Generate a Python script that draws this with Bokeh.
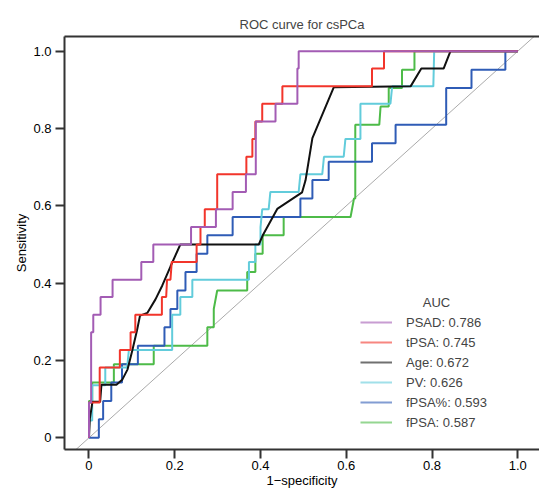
from bokeh.plotting import figure
from bokeh.models import Range1d, FixedTicker, LinearAxis, Legend, LegendItem, Label
from bokeh.embed import file_html
from bokeh.resources import INLINE

# ---------------- data ----------------
series_names = ["PSAD", "tPSA", "Age", "PV", "fPSA%", "fPSA"]
auc_values = [0.786, 0.745, 0.672, 0.626, 0.593, 0.587]
colors = ["#A35CB4", "#F2352B", "#111111", "#62CCDB", "#2F5CB6", "#4DBB48"]

fpr_psad = [0, 0, 0.005, 0.005, 0.010, 0.010, 0.027, 0.027, 0.055, 0.055, 0.122, 0.122,
            0.150, 0.150, 0.238, 0.238, 0.296, 0.296, 0.335, 0.335, 0.366, 0.366,
            0.389, 0.389, 0.435, 0.435, 0.486, 0.486, 0.489, 0.489, 1.0]
tpr_psad = [0, 0.091, 0.091, 0.273, 0.273, 0.318, 0.318, 0.364, 0.364, 0.409, 0.409, 0.455,
            0.455, 0.5, 0.5, 0.545, 0.545, 0.591, 0.591, 0.636, 0.636, 0.682,
            0.682, 0.818, 0.818, 0.864, 0.864, 0.955, 0.955, 1.0, 1.0]

fpr_tpsa = [0, 0, 0.025, 0.025, 0.072, 0.072, 0.097, 0.097, 0.108, 0.108, 0.170, 0.170,
            0.180, 0.182, 0.190, 0.193, 0.251, 0.251, 0.260, 0.260, 0.270, 0.270,
            0.299, 0.299, 0.367, 0.367, 0.381, 0.381, 0.388, 0.388, 0.404, 0.404,
            0.451, 0.451, 0.660, 0.660, 0.688, 0.688, 1.0]
tpr_tpsa = [0, 0.091, 0.091, 0.182, 0.182, 0.227, 0.227, 0.273, 0.273, 0.318, 0.318, 0.364,
            0.364, 0.409, 0.409, 0.455, 0.455, 0.5, 0.5, 0.545, 0.545, 0.591,
            0.591, 0.682, 0.682, 0.727, 0.727, 0.773, 0.773, 0.818, 0.818, 0.864,
            0.864, 0.909, 0.909, 0.955, 0.955, 1.0, 1.0]

fpr_age = [0, 0.002, 0.008, 0.026, 0.029, 0.064, 0.078, 0.090, 0.101, 0.112, 0.119, 0.136,
           0.155, 0.171, 0.190, 0.213, 0.396, 0.405, 0.439, 0.497, 0.505, 0.521, 0.571,
           0.750, 0.775, 0.827, 0.843, 1.0]
tpr_age = [0, 0.049, 0.093, 0.093, 0.137, 0.137, 0.151, 0.177, 0.226, 0.278, 0.316, 0.323,
           0.358, 0.394, 0.443, 0.5, 0.5, 0.523, 0.592, 0.635, 0.666, 0.775, 0.907,
           0.909, 0.955, 0.955, 1.0, 1.0]

fpr_pv = [0, 0, 0.0075, 0.0075, 0.038, 0.038, 0.089, 0.093, 0.194, 0.194, 0.213, 0.213,
          0.241, 0.241, 0.373, 0.373, 0.388, 0.388, 0.400, 0.400, 0.404, 0.419, 0.423,
          0.489, 0.493, 0.544, 0.548, 0.594, 0.598, 0.633, 0.633, 0.703, 0.707, 0.803,
          0.805, 1.0]
tpr_pv = [0, 0.045, 0.045, 0.136, 0.136, 0.182, 0.182, 0.227, 0.227, 0.318, 0.318, 0.364,
          0.364, 0.409, 0.409, 0.455, 0.455, 0.5, 0.5, 0.545, 0.591, 0.591, 0.636,
          0.636, 0.682, 0.682, 0.727, 0.727, 0.773, 0.773, 0.864, 0.864, 0.909, 0.909,
          1.0, 1.0]

fpr_fpsa_pct = [0, 0.023, 0.023, 0.033, 0.033, 0.052, 0.052, 0.077, 0.077, 0.114, 0.114,
                0.176, 0.176, 0.190, 0.190, 0.206, 0.206, 0.225, 0.225, 0.251, 0.251,
                0.276, 0.276, 0.335, 0.335, 0.493, 0.493, 0.521, 0.521, 0.559, 0.559,
                0.660, 0.660, 0.715, 0.715, 0.833, 0.833, 0.892, 0.892, 0.971, 0.971, 1.0]
tpr_fpsa_pct = [0, 0, 0.048, 0.048, 0.095, 0.095, 0.143, 0.143, 0.190, 0.190, 0.238,
                0.238, 0.286, 0.286, 0.333, 0.333, 0.381, 0.381, 0.429, 0.429, 0.476,
                0.476, 0.524, 0.524, 0.571, 0.571, 0.619, 0.619, 0.667, 0.667, 0.714,
                0.714, 0.762, 0.762, 0.810, 0.810, 0.905, 0.905, 0.952, 0.952, 1.0, 1.0]

fpr_fpsa = [0, 0, 0.0075, 0.0075, 0.058, 0.058, 0.151, 0.151, 0.276, 0.276, 0.291, 0.291,
            0.299, 0.369, 0.369, 0.388, 0.388, 0.405, 0.405, 0.454, 0.454, 0.610, 0.618,
            0.621, 0.621, 0.677, 0.680, 0.699, 0.699, 0.730, 0.730, 0.759, 0.759, 1.0]
tpr_fpsa = [0, 0.095, 0.095, 0.143, 0.143, 0.190, 0.190, 0.238, 0.238, 0.286, 0.286, 0.333,
            0.381, 0.381, 0.429, 0.429, 0.476, 0.476, 0.524, 0.524, 0.571, 0.571, 0.619,
            0.619, 0.810, 0.810, 0.857, 0.857, 0.905, 0.905, 0.952, 0.952, 1.0, 1.0]

fprs = [fpr_psad, fpr_tpsa, fpr_age, fpr_pv, fpr_fpsa_pct, fpr_fpsa]
tprs = [tpr_psad, tpr_tpsa, tpr_age, tpr_pv, tpr_fpsa_pct, tpr_fpsa]

tick_values = [0, 0.2, 0.4, 0.6, 0.8, 1.0]
tick_labels = ["0", "0.2", "0.4", "0.6", "0.8", "1.0"]
ref_line = [-0.1, 1.1]

FONT = "Liberation Sans"

# ---------------- figure ----------------
p = figure(width=539, height=491, output_backend="svg", toolbar_location=None,
           x_range=Range1d(-0.0571, 1.0506), y_range=Range1d(-0.0303, 1.038),
           min_border_left=64, min_border_right=0, min_border_top=36, min_border_bottom=42,
           title="ROC curve for csPCa")
p.title.text_font = FONT
p.title.text_font_size = "13px"
p.title.text_font_style = "normal"
p.title.align = "center"
p.title.standoff = 10
p.xgrid.visible = False
p.ygrid.visible = False
p.outline_line_color = None
p.background_fill_color = "white"
p.border_fill_color = "white"

overrides = {v: l for v, l in zip(tick_values, tick_labels)}
for ax in (p.xaxis[0], p.yaxis[0]):
    ax.ticker = FixedTicker(ticks=tick_values)
    ax.major_label_overrides = overrides
    ax.axis_line_width = 2
    ax.axis_line_color = "#333333"
    ax.major_tick_line_width = 2
    ax.major_tick_line_color = "#333333"
    ax.major_tick_out = 9
    ax.major_tick_in = 0
    ax.minor_tick_out = 0
    ax.minor_tick_in = 0
    ax.major_label_text_font = FONT
    ax.major_label_text_font_size = "13px"
    ax.major_label_text_color = "black"
    ax.axis_label_text_font = FONT
    ax.axis_label_text_font_size = "13px"
    ax.axis_label_text_font_style = "normal"
    ax.axis_label_text_color = "black"

p.xaxis.axis_label = "1\u2212specificity"
p.xaxis.major_label_standoff = 2
p.xaxis.axis_label_standoff = 0
p.yaxis.axis_label = "Sensitivity"
p.yaxis.major_label_standoff = 4
p.yaxis.axis_label_standoff = 1
p.yaxis.major_label_orientation = "horizontal"

top = LinearAxis(ticker=FixedTicker(ticks=[]), axis_line_width=2, axis_line_color="#333333",
                 major_tick_out=0, major_tick_in=0, minor_tick_out=0, minor_tick_in=0,
                 major_label_text_font_size="0px", major_label_standoff=0)
p.add_layout(top, "above")

# diagonal reference
p.line(ref_line, ref_line, line_color="#AAAAAA", line_width=1)

# curves, drawn last-to-first so PSAD is on top
for i in reversed(range(len(series_names))):
    p.line(fprs[i], tprs[i], line_color=colors[i], line_width=2)

# legend
items = []
for name, auc, c in zip(series_names, auc_values, colors):
    r = p.line([float("nan")], [float("nan")], line_color=c, line_width=2, line_alpha=0.6)
    items.append(LegendItem(label=f"{name}: {auc:.3f}", renderers=[r]))
legend = Legend(items=items, location=(296, 17), border_line_color=None,
                background_fill_alpha=0, padding=0, margin=0, spacing=0,
                glyph_width=32, glyph_height=20, label_height=20, label_standoff=14,
                label_text_font=FONT, label_text_font_size="13px")
p.add_layout(legend)
p.add_layout(Label(x=0.8104, y=0.3508, text="AUC",
                   text_align="center", text_baseline="middle", text_font=FONT,
                   text_font_size="13px"))

open("out.html", "w").write(file_html(p, INLINE))
